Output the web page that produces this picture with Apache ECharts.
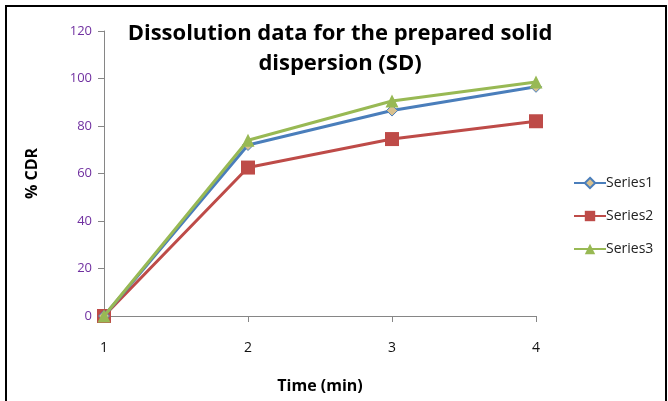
<!DOCTYPE html>
<html>
<head>
<meta charset="utf-8">
<script src="https://cdn.jsdelivr.net/npm/echarts@6/dist/echarts.min.js"></script>
<style>
  html, body { margin: 0; padding: 0; background: #fff; }
  #chart { width: 668px; height: 401px; }
</style>
</head>
<body>
<div id="chart"></div>
<script>
  const timeLabels = ['1', '2', '3', '4']
  const series1 = [0, 72, 86.5, 96.5]
  const series2 = [0, 62.5, 74.5, 82]
  const series3 = [0, 74, 90.5, 98.5]

  const myChart = echarts.init(document.getElementById('chart'))
  const font = 'Open Sans, Liberation Sans, sans-serif'

  myChart.setOption({
    backgroundColor: '#fff',
    animation: false,
    title: {
      text: 'Dissolution data for the prepared solid\ndispersion (SD)',
      left: 335,
      top: 14,
      textAlign: 'center',
      textStyle: {
        fontFamily: font,
        fontSize: 22,
        fontWeight: 'bold',
        color: '#000',
        lineHeight: 30
      }
    },
    graphic: [{
      type: 'polyline',
      shape: { points: [[6, 401], [6, 6], [666, 6], [666, 401]] },
      style: { stroke: '#000', lineWidth: 2, fill: null }
    }],
    legend: {
      orient: 'vertical',
      left: 568,
      top: 171,
      itemGap: 19,
      itemWidth: 32,
      itemHeight: 13,
      textStyle: { fontFamily: font, fontSize: 14, color: '#222', padding: [0, 0, 0, -5] },
      data: ['Series1', 'Series2', 'Series3']
    },
    grid: { left: 104, right: 132, top: 31, bottom: 85, outerBoundsMode: 'none' },
    xAxis: {
      type: 'category',
      data: timeLabels,
      boundaryGap: false,
      name: 'Time (min)',
      nameLocation: 'middle',
      nameGap: 62,
      nameTextStyle: { fontFamily: font, fontSize: 16, fontWeight: 'bold', color: '#000' },
      axisLine: { lineStyle: { color: '#868686', width: 1 } },
      axisTick: { show: true, length: 6, lineStyle: { color: '#868686' } },
      axisLabel: { fontFamily: font, fontSize: 14, color: '#111', margin: 25 },
      splitLine: { show: false }
    },
    yAxis: {
      type: 'value',
      min: 0,
      max: 120,
      interval: 20,
      name: '% CDR',
      nameLocation: 'middle',
      nameGap: 64,
      nameTextStyle: { fontFamily: font, fontSize: 16, fontWeight: 'bold', color: '#000' },
      axisLine: { show: true, lineStyle: { color: '#868686', width: 1 } },
      axisTick: { show: true, length: 6, lineStyle: { color: '#868686' } },
      axisLabel: { fontFamily: font, fontSize: 13, color: '#7030A0', margin: 12 },
      splitLine: { show: false }
    },
    series: [
      {
        name: 'Series1',
        type: 'line',
        data: series1,
        symbol: 'diamond',
        symbolSize: 11,
        lineStyle: { color: '#4A7EBB', width: 3 },
        itemStyle: { color: '#D9C18E', borderColor: '#4A7EBB', borderWidth: 1 },
        z: 3
      },
      {
        name: 'Series2',
        type: 'line',
        data: series2,
        symbol: 'rect',
        symbolSize: 14,
        lineStyle: { color: '#BE4B48', width: 3 },
        itemStyle: { color: '#BE4B48' },
        z: 2
      },
      {
        name: 'Series3',
        type: 'line',
        data: series3,
        symbol: 'triangle',
        symbolSize: 13,
        lineStyle: { color: '#98B954', width: 3 },
        itemStyle: { color: '#98B954' },
        z: 4
      }
    ]
  })
</script>
</body>
</html>
